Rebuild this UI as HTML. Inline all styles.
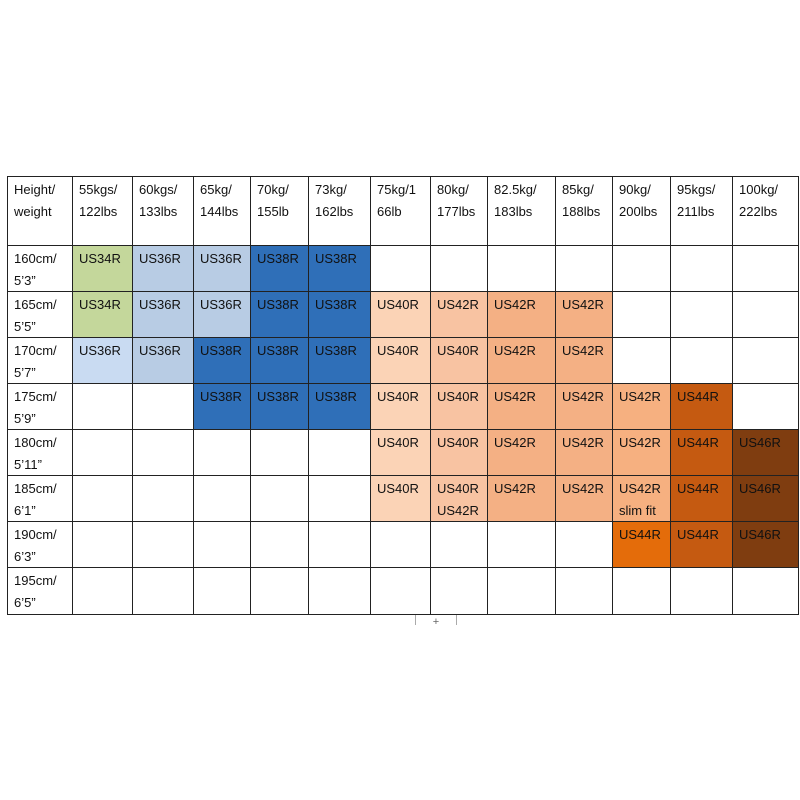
<!DOCTYPE html><html><head><style>
body{margin:0;width:800px;height:800px;background:#fff;position:relative;overflow:hidden;font-family:"Liberation Sans",sans-serif;font-size:13px;color:#111}
.c{position:absolute;box-sizing:border-box;padding:3px 0 0 7px;line-height:22px}
.l{position:absolute;background:#222}
</style></head><body>
<div id="t"></div>
<script>
const X=[7,72,132,193,250,308,370,430,487,555,612,670,732,798];
const Y=[176,245,291,337,383,429,475,521,567,614];
const H=["Height/<br>weight","55kgs/<br>122lbs","60kgs/<br>133lbs","65kg/<br>144lbs","70kg/<br>155lb","73kg/<br>162lbs","75kg/1<br>66lb","80kg/<br>177lbs","82.5kg/<br>183lbs","85kg/<br>188lbs","90kg/<br>200lbs","95kgs/<br>211lbs","100kg/<br>222lbs"];
const G="#c4d79b",B1="#b8cce4",B0="#c9dbf2",D="#2f6fb8",O1="#fbd3b6",O2="#f8c3a2",O3="#f4b084",O4="#f4b084",O5="#f6b080",E="#e46c0a",R="#c55a11",K="#7f3d10";
const rows=[
["160cm/<br>5’3”",[G,"US34R"],[B1,"US36R"],[B1,"US36R"],[D,"US38R"],[D,"US38R"]],
["165cm/<br>5’5”",[G,"US34R"],[B1,"US36R"],[B1,"US36R"],[D,"US38R"],[D,"US38R"],[O1,"US40R"],[O2,"US42R"],[O3,"US42R"],[O4,"US42R"]],
["170cm/<br>5’7”",[B0,"US36R"],[B1,"US36R"],[D,"US38R"],[D,"US38R"],[D,"US38R"],[O1,"US40R"],[O2,"US40R"],[O3,"US42R"],[O4,"US42R"]],
["175cm/<br>5’9”",0,0,[D,"US38R"],[D,"US38R"],[D,"US38R"],[O1,"US40R"],[O2,"US40R"],[O3,"US42R"],[O4,"US42R"],[O5,"US42R"],[R,"US44R"]],
["180cm/<br>5’11”",0,0,0,0,0,[O1,"US40R"],[O2,"US40R"],[O3,"US42R"],[O4,"US42R"],[O5,"US42R"],[R,"US44R"],[K,"US46R"]],
["185cm/<br>6’1”",0,0,0,0,0,[O1,"US40R"],[O2,"US40R<br>US42R"],[O3,"US42R"],[O4,"US42R"],[O5,"US42R<br>slim fit"],[R,"US44R"],[K,"US46R"]],
["190cm/<br>6’3”",0,0,0,0,0,0,0,0,0,[E,"US44R"],[R,"US44R"],[K,"US46R"]],
["195cm/<br>6’5”"]];
let h="";
const cell=(c,r,bg,tx)=>{h+=`<div class="c" style="left:${X[c]}px;top:${Y[r]}px;width:${X[c+1]-X[c]}px;height:${Y[r+1]-Y[r]}px;background:${bg}">${tx}</div>`};
H.forEach((t,i)=>cell(i,0,"#fff",t));
rows.forEach((r,j)=>{cell(0,j+1,"#fff",r[0]);for(let i=1;i<13;i++){const v=r[i];if(v)cell(i,j+1,v[0],v[1]);}});
X.forEach(x=>h+=`<div class="l" style="left:${x}px;top:176px;width:1px;height:439px"></div>`);
Y.forEach(y=>h+=`<div class="l" style="left:7px;top:${y}px;width:792px;height:1px"></div>`);
h+=`<div style="position:absolute;left:415px;top:615px;width:40px;height:10px;border-left:1px solid #aaa;border-right:1px solid #aaa;font-size:11px;color:#666;text-align:center;line-height:14px">+</div>`;
document.getElementById("t").innerHTML=h;
</script>
</body></html>
